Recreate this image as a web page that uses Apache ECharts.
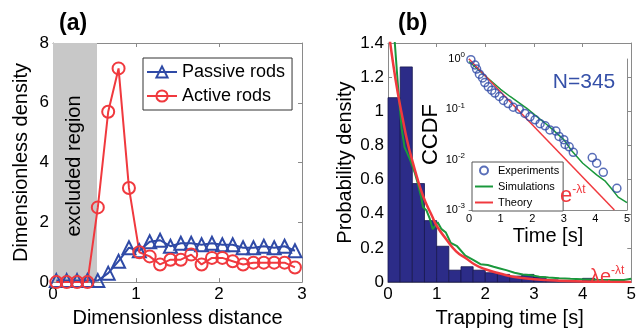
<!DOCTYPE html>
<html>
<head>
<meta charset="utf-8">
<script src="https://cdn.jsdelivr.net/npm/echarts@6/dist/echarts.min.js"></script>
<style>
  html, body { margin: 0; padding: 0; background: #fff; }
  #main { width: 639px; height: 333px; }
</style>
</head>
<body>
<div id="main"></div>
<script>
// panel (a): density vs distance
var distX = [0.04, 0.165, 0.29, 0.415, 0.54, 0.665, 0.79, 0.915, 1.04, 1.165, 1.29, 1.415,
  1.54, 1.665, 1.79, 1.915, 2.04, 2.165, 2.29, 2.415, 2.54, 2.665, 2.79, 2.915];
var passiveRods = [0.05, 0.05, 0.05, 0.05, 0.05, 0.3, 0.7, 1.15, 1.05, 1.35, 1.4, 1.2,
  1.3, 1.3, 1.25, 1.3, 1.25, 1.25, 1.15, 1.15, 1.2, 1.15, 1.2, 1.05];
var activeRods = [0, 0, 0, 0, 2.5, 5.7, 7.15, 3.15, 1.0, 0.86, 0.59, 0.75,
  0.75, 0.92, 0.59, 0.81, 0.81, 0.7, 0.59, 0.65, 0.65, 0.65, 0.65, 0.49];
var excludedEnd = 0.53;

// panel (b): trapping time histogram + curves
var binStart = [0, 0.25, 0.5, 0.75, 1, 1.25, 1.5, 1.75, 2, 2.25, 2.5, 2.75, 3, 3.25, 3.5, 3.75, 4, 4.25];
var binHeight = [1.08, 1.26, 0.577, 0.36, 0.21, 0.07, 0.09, 0.07, 0.055, 0.045, 0.035, 0.045, 0.03, 0.013, 0.005, 0.005, 0.022, 0.003];
var binWidth = 0.25;

var simT   = [0.1, 0.14, 0.21, 0.28, 0.34, 0.45, 0.55, 0.61, 0.68, 0.72, 0.79, 0.86, 0.92, 0.97, 1.02, 1.1,
  1.19, 1.29, 1.42, 1.59, 1.75, 1.9, 2.05, 2.17, 2.3, 2.43, 2.6, 2.77, 2.95, 3.11, 3.3, 3.52, 3.75, 3.99, 4.3, 4.66, 4.85, 5.0];
var simPdf = [1.6, 1.4, 1.13, 0.9, 0.79, 0.72, 0.64, 0.58, 0.5, 0.44, 0.42, 0.37, 0.31, 0.33, 0.35, 0.31,
  0.29, 0.23, 0.21, 0.155, 0.13, 0.105, 0.1, 0.09, 0.08, 0.07, 0.055, 0.045, 0.04, 0.032, 0.027, 0.023, 0.02, 0.017, 0.014, 0.012, 0.012, 0.02];

var theoryT   = [0, 0.1, 0.2, 0.3, 0.4, 0.5, 0.6, 0.7, 0.8, 0.9, 1.0, 1.2, 1.4, 1.6, 1.8, 2.0, 2.3, 2.6, 3.0, 3.5, 4.0, 4.5, 5.0];
var theoryPdf = [1.5, 1.29, 1.11, 0.96, 0.82, 0.71, 0.61, 0.52, 0.45, 0.39, 0.33, 0.25, 0.18, 0.14, 0.10, 0.075, 0.05, 0.03, 0.017, 0.008, 0.004, 0.002, 0.001];

// inset: CCDF
var expT    = [0.06, 0.19, 0.24, 0.33, 0.43, 0.5, 0.61, 0.72, 0.82, 0.96, 1.09, 1.24, 1.40, 1.59, 1.77,
  1.93, 2.09, 2.25, 2.41, 2.56, 2.75, 2.85, 3.0, 3.04, 3.17, 3.30, 3.90, 4.04, 4.25, 4.68];
var expCcdf = [0.97, 0.76, 0.63, 0.50, 0.42, 0.34, 0.28, 0.24, 0.21, 0.18, 0.15, 0.13, 0.11, 0.10, 0.083,
  0.071, 0.062, 0.052, 0.047, 0.039, 0.037, 0.029, 0.025, 0.020, 0.018, 0.014, 0.011, 0.0085, 0.0056, 0.0027];
var simCcdfT = [0, 0.5, 1.0, 1.3, 1.83, 2.1, 2.46, 2.66, 3.0, 3.25, 3.6, 4.04, 4.3, 4.5, 4.72, 5.0];
var simCcdf  = [0.89, 0.47, 0.25, 0.18, 0.105, 0.076, 0.05, 0.039, 0.025, 0.015, 0.0085, 0.005, 0.0038, 0.0027, 0.0018, 0.0014];
var theoryCcdfT = [0, 4.6];
var theoryCcdf  = [1, 0.001];

var RED = '#f0393e', BLUE = '#2f4aa6', GREEN = '#1a983c', NAVY = '#2c2c88', AXIS = '#8a8a8a';
var FONT = 'Liberation Sans';
var LINE_ICON = 'path://M0,0H20V2.2H0Z';

function zip(a, b) {
  var out = [];
  for (var i = 0; i < a.length; i++) out.push([a[i], b[i]]);
  return out;
}

function frameAxis(grid, pos, type, min, max, interval) {
  return {
    gridIndex: grid, position: pos, type: type, min: min, max: max, interval: interval,
    axisLine: {onZero: false, lineStyle: {color: AXIS}},
    axisTick: {inside: true, length: 4, lineStyle: {color: AXIS}},
    axisLabel: {show: false}, splitLine: {show: false}
  };
}

function mainAxis(grid, pos, type, min, max, interval, name, gap, size) {
  var ax = frameAxis(grid, pos, type, min, max, interval);
  ax.axisLabel = {show: true, color: '#000', fontSize: size, margin: 4, fontFamily: FONT};
  ax.name = name;
  ax.nameLocation = 'middle';
  ax.nameGap = gap;
  ax.nameTextStyle = {color: '#000', fontSize: 20, fontFamily: FONT};
  return ax;
}

var supRich = {s: {fontSize: 8, padding: [0, 0, 8, 0], fontFamily: FONT, color: '#000'}};

var insetY = mainAxis(2, 'left', 'log', 0.001, 1, null, 'CCDF', 26, 11);
delete insetY.interval;
insetY.logBase = 10;
insetY.nameTextStyle.fontSize = 22;
insetY.axisLabel.formatter = function (v) {
  return '10{s|' + Math.round(Math.log10(v)) + '}';
};
insetY.axisLabel.rich = supRich;
var insetYR = frameAxis(2, 'right', 'log', 0.001, 1, null);
delete insetYR.interval;

var insetX = mainAxis(2, 'bottom', 'value', 0, 5, 1, 'Time [s]', 16, 11);
insetX.axisLabel.margin = 3;

var chart = echarts.init(document.getElementById('main'));

var option = {
  animation: false,
  textStyle: {fontFamily: FONT},
  grid: [
    {left: 53, top: 43, width: 249, height: 247},
    {left: 388, top: 43, width: 247, height: 246},
    {left: 469, top: 59, width: 158, height: 151, show: true, backgroundColor: '#fff', borderWidth: 0, z: 3}
  ],
  xAxis: [
    mainAxis(0, 'bottom', 'value', 0, 3, 1, 'Dimensionless distance', 20, 17),
    frameAxis(0, 'top', 'value', 0, 3, 1),
    mainAxis(1, 'bottom', 'value', 0, 5, 1, 'Trapping time [s]', 20, 17),
    frameAxis(1, 'top', 'value', 0, 5, 1),
    insetX,
    frameAxis(2, 'top', 'value', 0, 5, 1)
  ],
  yAxis: [
    mainAxis(0, 'left', 'value', 0, 8, 2, 'Dimensionless density', 22, 17),
    frameAxis(0, 'right', 'value', 0, 8, 2),
    mainAxis(1, 'left', 'value', 0, 1.4, 0.2, 'Probability density', 33, 17),
    frameAxis(1, 'right', 'value', 0, 1.4, 0.2),
    insetY,
    insetYR
  ],
  legend: [
    {
      data: ['Passive rods', 'Active rods'],
      orient: 'vertical', left: 143, top: 58,
      itemWidth: 30, itemHeight: 14, itemGap: 6,
      padding: [5, 7, 5, 3],
      borderColor: '#333', borderWidth: 1, backgroundColor: '#fff',
      textStyle: {fontSize: 18, color: '#000', fontFamily: FONT}
    },
    {
      data: [
        {name: 'Experiments', icon: 'circle'},
        {name: 'Simulations', icon: LINE_ICON, itemStyle: {color: GREEN}},
        {name: 'Theory', icon: LINE_ICON, itemStyle: {color: RED}}
      ],
      orient: 'vertical', left: 472, top: 162,
      itemWidth: 18, itemHeight: 8, itemGap: 5,
      padding: [3, 4, 3, 3],
      borderColor: '#555', borderWidth: 1, backgroundColor: '#fff',
      textStyle: {fontSize: 11, color: '#000', fontFamily: FONT},
      z: 10
    }
  ],
  series: [
    {
      name: 'Passive rods', type: 'line', xAxisIndex: 0, yAxisIndex: 0,
      data: zip(distX, passiveRods),
      symbol: 'triangle', symbolSize: 13,
      itemStyle: {color: 'rgba(0,0,0,0)', borderColor: BLUE, borderWidth: 2},
      lineStyle: {color: BLUE, width: 2}
    },
    {
      name: 'Active rods', type: 'line', xAxisIndex: 0, yAxisIndex: 0,
      data: zip(distX, activeRods),
      symbol: 'circle', symbolSize: 12,
      itemStyle: {color: 'rgba(0,0,0,0)', borderColor: RED, borderWidth: 2},
      lineStyle: {color: RED, width: 2},
      markArea: {
        silent: true,
        itemStyle: {color: '#c8c8c8', opacity: 1},
        data: [[{xAxis: 0}, {xAxis: excludedEnd}]]
      }
    },
    {
      name: 'Histogram', type: 'custom', xAxisIndex: 2, yAxisIndex: 2,
      data: binStart.map(function (s, i) { return [s, s + binWidth, binHeight[i]]; }),
      encode: {x: [0, 1], y: 2},
      renderItem: function (params, api) {
        var p0 = api.coord([api.value(0), api.value(2)]);
        var p1 = api.coord([api.value(1), 0]);
        return {
          type: 'rect',
          shape: {x: p0[0], y: p0[1], width: p1[0] - p0[0], height: p1[1] - p0[1]},
          style: {fill: NAVY, stroke: '#18184f', lineWidth: 0.8}
        };
      }
    },
    {
      name: 'Simulations pdf', type: 'line', xAxisIndex: 2, yAxisIndex: 2,
      data: zip(simT, simPdf), symbol: 'none',
      lineStyle: {color: GREEN, width: 2}, itemStyle: {color: GREEN}
    },
    {
      name: 'Theory pdf', type: 'line', xAxisIndex: 2, yAxisIndex: 2,
      data: zip(theoryT, theoryPdf), symbol: 'none', smooth: true,
      lineStyle: {color: RED, width: 2.5}, itemStyle: {color: RED}
    },
    {
      name: 'Experiments', type: 'scatter', xAxisIndex: 4, yAxisIndex: 4,
      data: zip(expT, expCcdf), symbol: 'circle', symbolSize: 8, z: 5,
      itemStyle: {color: 'rgba(0,0,0,0)', borderColor: BLUE, borderWidth: 1.5}
    },
    {
      name: 'Simulations', type: 'line', xAxisIndex: 4, yAxisIndex: 4,
      data: zip(simCcdfT, simCcdf), symbol: 'none', z: 4,
      lineStyle: {color: GREEN, width: 1.5}, itemStyle: {color: GREEN}
    },
    {
      name: 'Theory', type: 'line', xAxisIndex: 4, yAxisIndex: 4,
      data: zip(theoryCcdfT, theoryCcdf), symbol: 'none', z: 4,
      lineStyle: {color: RED, width: 1.5}, itemStyle: {color: RED}
    }
  ],
  graphic: [
    {type: 'text', left: 59, top: 12, z: 20,
      style: {text: '(a)', font: 'bold 23px "Liberation Sans"', fill: '#000'}},
    {type: 'text', left: 398, top: 12, z: 20,
      style: {text: '(b)', font: 'bold 23px "Liberation Sans"', fill: '#000'}},
    {type: 'text', x: 74, y: 166, rotation: Math.PI / 2, z: 20,
      style: {text: 'excluded region', font: '20px "Liberation Sans"', fill: '#000',
        textAlign: 'center', textVerticalAlign: 'middle'}},
    {type: 'text', x: 584, y: 82, z: 20,
      style: {text: 'N=345', font: '21px "Liberation Sans"', fill: '#3550a8',
        textAlign: 'center', textVerticalAlign: 'middle'}},
    {type: 'text', x: 560, y: 196, z: 20,
      style: {text: 'e{s|-λt}', font: '22px "Liberation Sans"', fill: RED, textVerticalAlign: 'middle',
        rich: {s: {fontSize: 12, fill: RED, padding: [0, 0, 12, 0], fontFamily: FONT}}}},
    {type: 'text', x: 590, y: 277, z: 20,
      style: {text: 'λe{s|-λt}', font: '20px "Liberation Sans"', fill: RED, textVerticalAlign: 'middle',
        rich: {s: {fontSize: 12, fill: RED, padding: [0, 0, 12, 0], fontFamily: FONT}}}}
  ]
};

chart.setOption(option);
</script>
</body>
</html>
